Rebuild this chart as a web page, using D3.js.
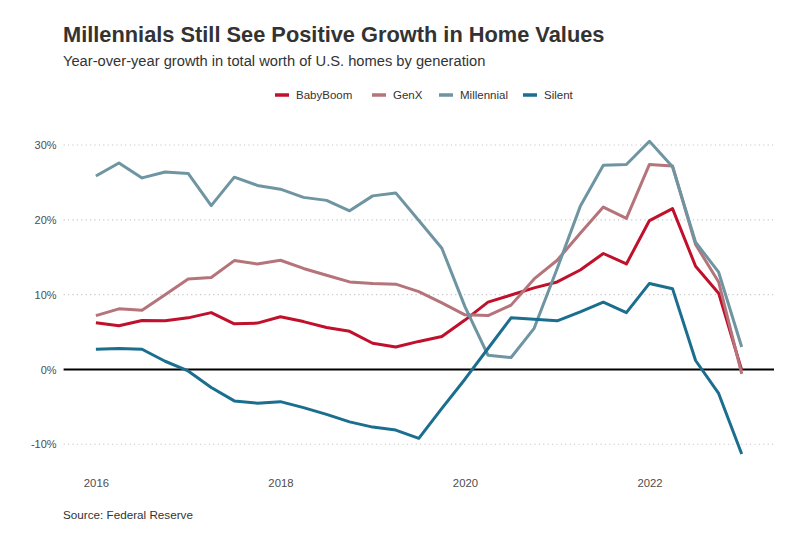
<!DOCTYPE html>
<html>
<head>
<meta charset="utf-8">
<script src="https://cdn.jsdelivr.net/npm/d3@7"></script>
<style>
  html, body { margin: 0; padding: 0; background: #fff; }
  svg { display: block; font-family: "Liberation Sans", Arial, sans-serif; }
</style>
</head>
<body>
<svg id="chart" width="791" height="534"></svg>
<script>
// ---- data ----
const startYear = 2016;
const quarters = d3.range(29).map(i => startYear + i / 4);
const seriesNames = ["BabyBoom", "GenX", "Millennial", "Silent"];
const babyBoom = [6.25, 5.85, 6.55, 6.5, 6.9, 7.6, 6.1, 6.2, 7.05, 6.4, 5.6, 5.1, 3.5, 3.0, 3.75, 4.4, 6.6, 9.0, 9.95, 10.9, 11.7, 13.3, 15.5, 14.1, 19.9, 21.5, 13.8, 10.2, -0.1];
const genX = [7.2, 8.1, 7.9, 10.0, 12.1, 12.3, 14.55, 14.1, 14.6, 13.5, 12.6, 11.7, 11.5, 11.4, 10.4, 8.9, 7.3, 7.2, 8.6, 12.1, 14.6, 18.2, 21.7, 20.2, 27.4, 27.2, 16.7, 11.7, -0.6];
const millennial = [25.85, 27.6, 25.6, 26.4, 26.2, 21.9, 25.7, 24.6, 24.1, 23.0, 22.6, 21.2, 23.2, 23.6, 19.9, 16.2, 8.4, 1.9, 1.6, 5.5, 13.5, 21.8, 27.3, 27.4, 30.5, 27.1, 17.0, 13.0, 3.0];
const silent = [2.7, 2.8, 2.7, 1.1, -0.2, -2.4, -4.2, -4.5, -4.3, -5.1, -6.0, -7.0, -7.7, -8.1, -9.2, -5.2, -1.3, 2.8, 6.9, 6.7, 6.5, 7.7, 9.0, 7.6, 11.5, 10.8, 1.2, -3.2, -11.3];
const seriesColors = ["#c0102b", "#b5737a", "#6e95a1", "#1b6e8e"];
const xTickValues = [2016, 2018, 2020, 2022];
const yTickValues = [-10, 0, 10, 20, 30];
const title = "Millennials Still See Positive Growth in Home Values";
const subtitle = "Year-over-year growth in total worth of U.S. homes by generation";
const caption = "Source: Federal Reserve";

const seriesValues = [babyBoom, genX, millennial, silent];
const series = seriesNames.map((name, i) => ({
  name, color: seriesColors[i],
  points: quarters.map((q, j) => ({ x: q, y: seriesValues[i][j] }))
}));

// ---- layout ----
const svg = d3.select("#chart");
const plotLeft = 63.6, plotRight = 774;
const x = d3.scaleLinear().domain([2015.65, 2023.35]).range([plotLeft, plotRight]);
const y = d3.scaleLinear().domain([-10, 30]).range([444.3, 145]);

// title etc
svg.append("text").attr("x", 63).attr("y", 41.7)
  .attr("font-size", 21.8).attr("font-weight", "bold").attr("fill", "#333")
  .text(title);
svg.append("text").attr("x", 63).attr("y", 65.7)
  .attr("font-size", 14.7).attr("fill", "#333")
  .text(subtitle);

// gridlines
const grid = svg.append("g");
grid.selectAll("line").data(yTickValues.filter(v => v !== 0)).join("line")
  .attr("x1", plotLeft).attr("x2", plotRight)
  .attr("y1", d => y(d)).attr("y2", d => y(d))
  .attr("stroke", "#c8c8c8").attr("stroke-width", 1.1)
  .attr("stroke-dasharray", "1.2,3.2");

// y axis
const yAxis = svg.append("g").attr("transform", `translate(${plotLeft},0)`)
  .call(d3.axisLeft(y).tickValues(yTickValues).tickSize(0).tickPadding(7)
    .tickFormat(d => d + "%"));
yAxis.select(".domain").remove();
yAxis.selectAll("text").attr("font-size", 11).attr("fill", "#4d4d4d")
  .attr("font-family", "Liberation Sans, Arial, sans-serif");

// x axis
const xAxis = svg.append("g").attr("transform", `translate(0,${479})`)
  .call(d3.axisBottom(x).tickValues(xTickValues).tickSize(0).tickPadding(0)
    .tickFormat(d3.format("d")));
xAxis.select(".domain").remove();
xAxis.selectAll("text").attr("font-size", 11.3).attr("fill", "#4d4d4d")
  .attr("font-family", "Liberation Sans, Arial, sans-serif");

// zero line
svg.append("line").attr("x1", plotLeft).attr("x2", plotRight)
  .attr("y1", y(0)).attr("y2", y(0))
  .attr("stroke", "#000").attr("stroke-width", 2.2);

// lines
const line = d3.line().x(d => x(d.x)).y(d => y(d.y));
svg.append("g").selectAll("path").data(series).join("path")
  .attr("d", d => line(d.points))
  .attr("fill", "none")
  .attr("stroke", d => d.color)
  .attr("stroke-width", 3)
  .attr("stroke-linejoin", "round");

// legend
const legendX = [275, 372, 439, 523];
const legend = svg.append("g");
const items = legend.selectAll("g").data(series).join("g")
  .attr("transform", (d, i) => `translate(${legendX[i]},95)`);
items.append("line").attr("x1", 0).attr("x2", 14).attr("y1", 0).attr("y2", 0)
  .attr("stroke", d => d.color).attr("stroke-width", 3.5);
items.append("text").attr("x", 21).attr("y", 4).attr("font-size", 11.5)
  .attr("fill", "#333").text(d => d.name);

// caption
svg.append("text").attr("x", 63).attr("y", 519)
  .attr("font-size", 11.7).attr("fill", "#333").text(caption);
</script>
</body>
</html>
